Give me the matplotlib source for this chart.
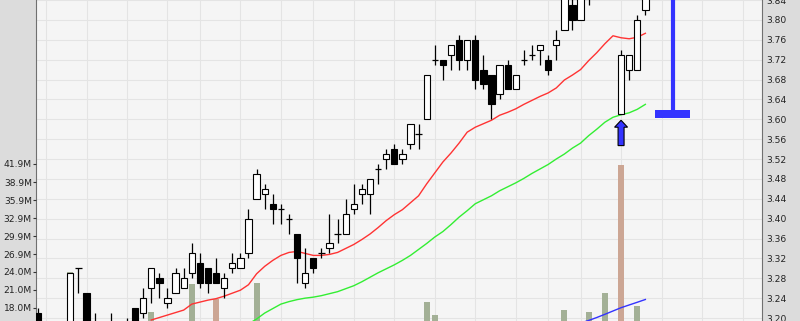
#==================================================================================
#                     Candlestick chart with volume, MAs and signal marks
#==================================================================================
import matplotlib
matplotlib.use('Agg')
import matplotlib.pyplot as plt
import numpy as np
from matplotlib.patches import Rectangle, Polygon

nan = np.nan

#==================================================================================
#                                   Data
#       index = trading session; nan = session outside the visible price range
#==================================================================================
opens = [3.21, nan, nan, nan, 3.16, 3.30, 3.25, 3.18, nan, 3.18,
         nan, 3.18, 3.22, 3.21, 3.26, 3.28, 3.23, 3.25, 3.26, 3.29,
         3.31, 3.30, 3.29, 3.26, 3.30, 3.30, 3.33, 3.44, 3.45, 3.43,
         3.42, 3.40, 3.37, 3.27, 3.32, 3.33, 3.34, 3.37, 3.37, 3.42,
         3.45, 3.45, 3.50, 3.52, 3.54, 3.52, 3.55, 3.57, 3.60, 3.72,
         3.72, 3.73, 3.76, 3.72, 3.76, 3.70, 3.69, 3.65, 3.71, 3.66,
         3.72, 3.73, 3.74, 3.72, 3.75, 3.78, 3.83, 3.80, 3.88, nan,
         nan, nan, 3.61, 3.70, 3.70, 3.82]
highs = [3.22, nan, nan, nan, 3.29, 3.30, 3.25, 3.21, nan, 3.21,
         nan, 3.20, 3.22, 3.26, 3.30, 3.29, 3.26, 3.30, 3.30, 3.35,
         3.33, 3.30, 3.32, 3.29, 3.33, 3.33, 3.42, 3.50, 3.47, 3.45,
         3.43, 3.41, 3.37, 3.34, 3.32, 3.34, 3.41, 3.40, 3.44, 3.47,
         3.47, 3.48, 3.51, 3.54, 3.55, 3.54, 3.59, 3.59, 3.69, 3.75,
         3.72, 3.75, 3.77, 3.76, 3.77, 3.73, 3.69, 3.71, 3.72, 3.69,
         3.74, 3.75, 3.75, 3.73, 3.78, 3.86, 3.85, 3.87, 3.90, nan,
         nan, nan, 3.74, 3.73, 3.81, 3.86]
lows = [3.16, nan, nan, nan, 3.15, 3.25, 3.16, 3.16, nan, 3.16,
        nan, 3.16, 3.16, 3.20, 3.23, 3.24, 3.22, 3.25, 3.26, 3.28,
        3.26, 3.25, 3.27, 3.24, 3.29, 3.30, 3.32, 3.44, 3.42, 3.39,
        3.39, 3.37, 3.27, 3.26, 3.29, 3.32, 3.33, 3.35, 3.37, 3.41,
        3.43, 3.41, 3.47, 3.50, 3.51, 3.51, 3.54, 3.54, 3.60, 3.71,
        3.68, 3.70, 3.70, 3.70, 3.66, 3.66, 3.60, 3.64, 3.66, 3.66,
        3.71, 3.72, 3.71, 3.69, 3.72, 3.78, 3.78, 3.80, 3.83, nan,
        nan, nan, 3.61, 3.68, 3.70, 3.81]
closes = [3.17, nan, nan, nan, 3.29, 3.30, 3.17, 3.17, nan, 3.17,
          nan, 3.17, 3.17, 3.24, 3.30, 3.27, 3.24, 3.29, 3.28, 3.33,
          3.27, 3.27, 3.27, 3.28, 3.31, 3.32, 3.40, 3.49, 3.46, 3.42,
          3.42, 3.40, 3.32, 3.29, 3.30, 3.33, 3.35, 3.37, 3.41, 3.43,
          3.46, 3.48, 3.50, 3.53, 3.51, 3.53, 3.59, 3.57, 3.69, 3.72,
          3.71, 3.75, 3.72, 3.76, 3.68, 3.67, 3.63, 3.71, 3.66, 3.69,
          3.72, 3.73, 3.75, 3.70, 3.76, 3.85, 3.80, 3.86, 3.86, nan,
          nan, nan, 3.73, 3.73, 3.80, 3.85]

# short moving average (red), sessions 14..75
ma_short_start = 14
ma_short = [3.196, 3.201, 3.206, 3.211, 3.216, 3.228, 3.232, 3.236, 3.239, 3.244,
            3.250, 3.256, 3.267, 3.289, 3.304, 3.316, 3.326, 3.332, 3.334, 3.330,
            3.326, 3.326, 3.328, 3.332, 3.340, 3.348, 3.358, 3.369, 3.382, 3.396,
            3.408, 3.418, 3.432, 3.446, 3.470, 3.492, 3.514, 3.532, 3.552, 3.574,
            3.584, 3.591, 3.598, 3.608, 3.614, 3.621, 3.630, 3.638, 3.646, 3.653,
            3.663, 3.679, 3.689, 3.700, 3.718, 3.734, 3.752, 3.768, 3.764, 3.762,
            3.765, 3.773]

# long moving average (green), sessions 26..75
ma_long_start = 26
ma_long = [3.188, 3.198, 3.210, 3.219, 3.228, 3.233, 3.237, 3.240, 3.242, 3.245,
           3.249, 3.253, 3.259, 3.265, 3.273, 3.282, 3.291, 3.299, 3.307, 3.316,
           3.326, 3.338, 3.350, 3.363, 3.374, 3.388, 3.403, 3.416, 3.430, 3.438,
           3.446, 3.456, 3.464, 3.472, 3.481, 3.491, 3.500, 3.509, 3.520, 3.530,
           3.542, 3.552, 3.567, 3.580, 3.594, 3.604, 3.609, 3.613, 3.620, 3.630]

# volume (millions) of the sessions whose bar reaches into view
vol_idx = [4, 14, 19, 22, 27, 48, 49, 65, 68, 70, 72, 74]
vol_m = [24.0, 17.4, 22.0, 19.5, 22.2, 19.0, 16.8, 17.7, 17.3, 20.5, 41.7, 18.3]
vol_down = [False, False, False, True, False, False, False, False, False, False, True, False]

# volume moving average (millions)
vma_idx = [67, 68, 69, 70, 71, 72, 73, 74, 75]
vma_m = [15.5, 15.93, 16.42, 16.95, 17.50, 18.05, 18.50, 18.95, 19.41]

# week boundaries (vertical grid), axis ticks
week_starts = [1, 6, 11, 16, 20, 25, 30, 34, 39, 44, 49, 54, 59, 63, 67, 72, 77, 82, 87]
price_ticks = [3.20, 3.24, 3.28, 3.32, 3.36, 3.40, 3.44, 3.48, 3.52, 3.56,
               3.60, 3.64, 3.68, 3.72, 3.76, 3.80, 3.84]
vol_ticks = [18.0, 21.0, 24.0, 26.9, 29.9, 32.9, 35.9, 38.9, 41.9]

# signal: buy arrow under session 72, stop level marker
signal_idx = 72
stop_level = 3.61
stop_x = 78.4

#==================================================================================
#                                   Style
#==================================================================================
BG = '#f5f5f5'
PANEL = '#dcdcdc'
GRID = '#e4e4e4'
UP_VOL = '#a3b096'
DOWN_VOL = '#cca694'
RED = '#ff3333'
GREEN = '#33ee33'
BLUE = '#3333ff'
FS = 6.6

fig = plt.figure(figsize=(8.0, 3.21), dpi=100, facecolor=PANEL)
ax = fig.add_axes([36 / 800, 0, 726 / 800, 1])
ax.set_facecolor(BG)
axv = ax.twinx()

ax.set_xlim(-0.235, 89.4)
ax.set_ylim(3.194, 3.836)
axv.set_ylim(15.84, 69.12)

# grid
ax.set_axisbelow(True)
ax.set_xticks(week_starts)
ax.set_yticks(price_ticks)
ax.grid(True, color=GRID, lw=0.8)
ax.tick_params(axis='x', length=0, labelbottom=False)

# price axis on the right, volume axis on the left
ax.yaxis.tick_right()
ax.tick_params(axis='y', length=0, pad=2.8, labelsize=FS, labelcolor='#222222')
ax.set_yticklabels(['%.2f' % t for t in price_ticks])
axv.yaxis.tick_left()
axv.set_yticks(vol_ticks)
axv.set_yticklabels(['%.1fM' % t for t in vol_ticks])
axv.tick_params(axis='y', length=2.0, width=0.8, pad=1.0, labelsize=FS,
                labelcolor='#222222', color='#333333', direction='out')

for s in ['top', 'bottom']:
    ax.spines[s].set_visible(False)
for s in ['left', 'right']:
    ax.spines[s].set_color('#707070')
    ax.spines[s].set_linewidth(0.8)
for s in axv.spines.values():
    s.set_visible(False)

# volume bars & volume MA (drawn in the price axes, volume scale)
vcols = [DOWN_VOL if d else UP_VOL for d in vol_down]
ax.bar(vol_idx, vol_m, width=0.74, color=vcols, transform=axv.transData, zorder=1)
ax.plot(vma_idx, vma_m, color=BLUE, lw=1.0, transform=axv.transData, zorder=2)

# moving averages
ax.plot(np.arange(len(ma_short)) + ma_short_start, ma_short, color=RED, lw=1.0, zorder=2)
ax.plot(np.arange(len(ma_long)) + ma_long_start, ma_long, color=GREEN, lw=1.0, zorder=2)

# candles
w = 0.78
for i in range(len(opens)):
    o, h, l, c = opens[i], highs[i], lows[i], closes[i]
    if np.isnan(o):
        continue
    ax.vlines(i, l, h, color='black', lw=0.9, zorder=3)
    if o == c:
        ax.hlines(o, i - w / 2, i + w / 2, color='black', lw=0.9, zorder=3.1)
    else:
        fc = 'white' if c > o else 'black'
        ax.add_patch(Rectangle((i - w / 2, min(o, c)), w, abs(c - o), facecolor=fc,
                               edgecolor='black', lw=0.8, zorder=3.1))

# buy arrow under the signal candle
tip = lows[signal_idx] - 0.012
base = lows[signal_idx] - 0.026
bottom = lows[signal_idx] - 0.063
x0 = signal_idx
arrow = Polygon([(x0, tip), (x0 + 0.8, base), (x0 + 0.37, base), (x0 + 0.37, bottom),
                 (x0 - 0.37, bottom), (x0 - 0.37, base), (x0 - 0.8, base)],
                closed=True, facecolor=BLUE, edgecolor='black', lw=0.8, zorder=4)
ax.add_patch(arrow)

# stop level marker
ax.vlines(stop_x, stop_level, 3.9, color=BLUE, lw=3.0, zorder=4)
ax.add_patch(Rectangle((stop_x - 2.15, stop_level - 0.008), 4.3, 0.016,
                       facecolor=BLUE, edgecolor='none', zorder=4))

fig.savefig('out.png', dpi=100, facecolor=PANEL)
